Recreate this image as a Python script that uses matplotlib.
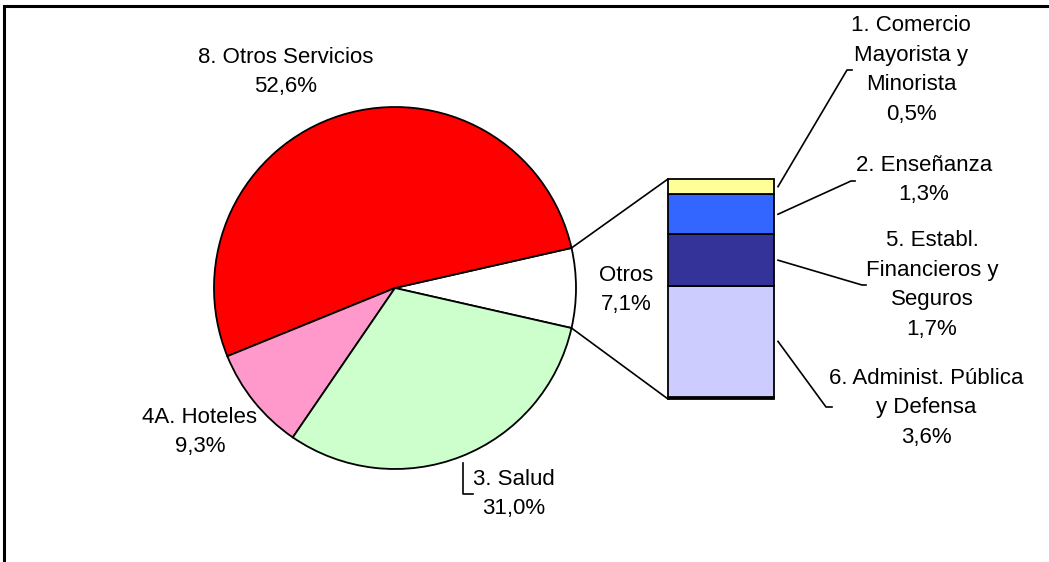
import numpy as np
import matplotlib.pyplot as plt

plt.rcParams['font.family'] = ['Liberation Sans', 'DejaVu Sans']

# Pie slices (counter-clockwise, "Otros" first so it sits on the right)
pie_labels = ['Otros', '8. Otros Servicios', '4A. Hoteles', '3. Salud']
pie_values = [7.1, 52.6, 9.3, 31.0]
pie_colors = ['#FFFFFF', '#FF0000', '#FF99CC', '#CCFFCC']

# Breakdown of "Otros", stacked bottom to top
bar_labels = ['6. Administ. Pública\ny Defensa',
              '5. Establ.\nFinancieros y\nSeguros',
              '2. Enseñanza',
              '1. Comercio\nMayorista y\nMinorista']
bar_values = [3.6, 1.7, 1.3, 0.5]
bar_colors = ['#CCCCFF', '#333399', '#3366FF', '#FFFF99']
resto = 0.08  # tiny unlabeled remainder at the base of the bar

W, H = 1049, 562


def fmt(v):
    return f'{v:.1f}'.replace('.', ',') + '%'


fig = plt.figure(figsize=(W / 100, H / 100), dpi=100)
ax = fig.add_axes([0, 0, 1, 1])

# pie
cx, cy, r = 395, H - 288, 181
start = -pie_values[0] / 2 * 3.6
wedges, _ = ax.pie(pie_values, colors=pie_colors, startangle=start,
                   counterclock=True, center=(cx, cy), radius=r,
                   wedgeprops=dict(edgecolor='black', linewidth=1.3))

# stacked bar
bx, bw, bbot, bh = 721, 106, H - 399, 220
scale = bh / (sum(bar_values) + resto)
ax.bar(bx, resto * scale, bottom=bbot, width=bw, color='black',
       edgecolor='black', linewidth=1.3)
bottom = bbot + resto * scale
mids = []
for v, c in zip(bar_values, bar_colors):
    ax.bar(bx, v * scale, bottom=bottom, width=bw, color=c,
           edgecolor='black', linewidth=1.3)
    mids.append(bottom + v * scale / 2)
    bottom += v * scale
btop = bottom

# connectors between the "Otros" slice and the bar
t1, t2 = np.radians(wedges[0].theta1), np.radians(wedges[0].theta2)
left = bx - bw / 2
ax.plot([cx + r * np.cos(t2), left], [cy + r * np.sin(t2), btop],
        color='black', lw=1.2)
ax.plot([cx + r * np.cos(t1), left], [cy + r * np.sin(t1), bbot],
        color='black', lw=1.2)

fs = 16
ls = 1.56

# pie labels
pie_pos = [(626, 290), (286, 72), (200, 432), (514, 494)]
for lab, v, (x, y) in zip(pie_labels, pie_values, pie_pos):
    ax.text(x, H - y, f'{lab}\n{fmt(v)}', ha='center', va='center',
            fontsize=fs, linespacing=ls, multialignment='center')

# bracket leader for Salud
ax.plot([463, 463, 473], [H - 463, H - 494, H - 494], color='black', lw=1.2)

# bar labels with leader lines
lab_pos = [(926, 408), (932, 285), (924, 180), (911, 70)]
lead_end = [(826, 832, 407), (862, 866, 285), (851, 855, 181), (847, 852, 70)]
right = bx + bw / 2
for lab, v, m, (x, y), (ex, ex2, ey) in zip(bar_labels, bar_values, mids,
                                           lab_pos, lead_end):
    ax.text(x, H - y, f'{lab}\n{fmt(v)}', ha='center', va='center',
            fontsize=fs, linespacing=ls, multialignment='center')
    ax.plot([right + 4, ex, ex2], [m, H - ey, H - ey], color='black', lw=1.2)

# chart area border (left and top edges)
ax.plot([4, 4, W + 5], [-5, H - 6, H - 6], color='black', lw=2.2,
        solid_joinstyle='miter')

ax.set_xlim(0, W)
ax.set_ylim(0, H)
ax.set_aspect('equal')
ax.axis('off')

fig.savefig('out.png', dpi=100)
